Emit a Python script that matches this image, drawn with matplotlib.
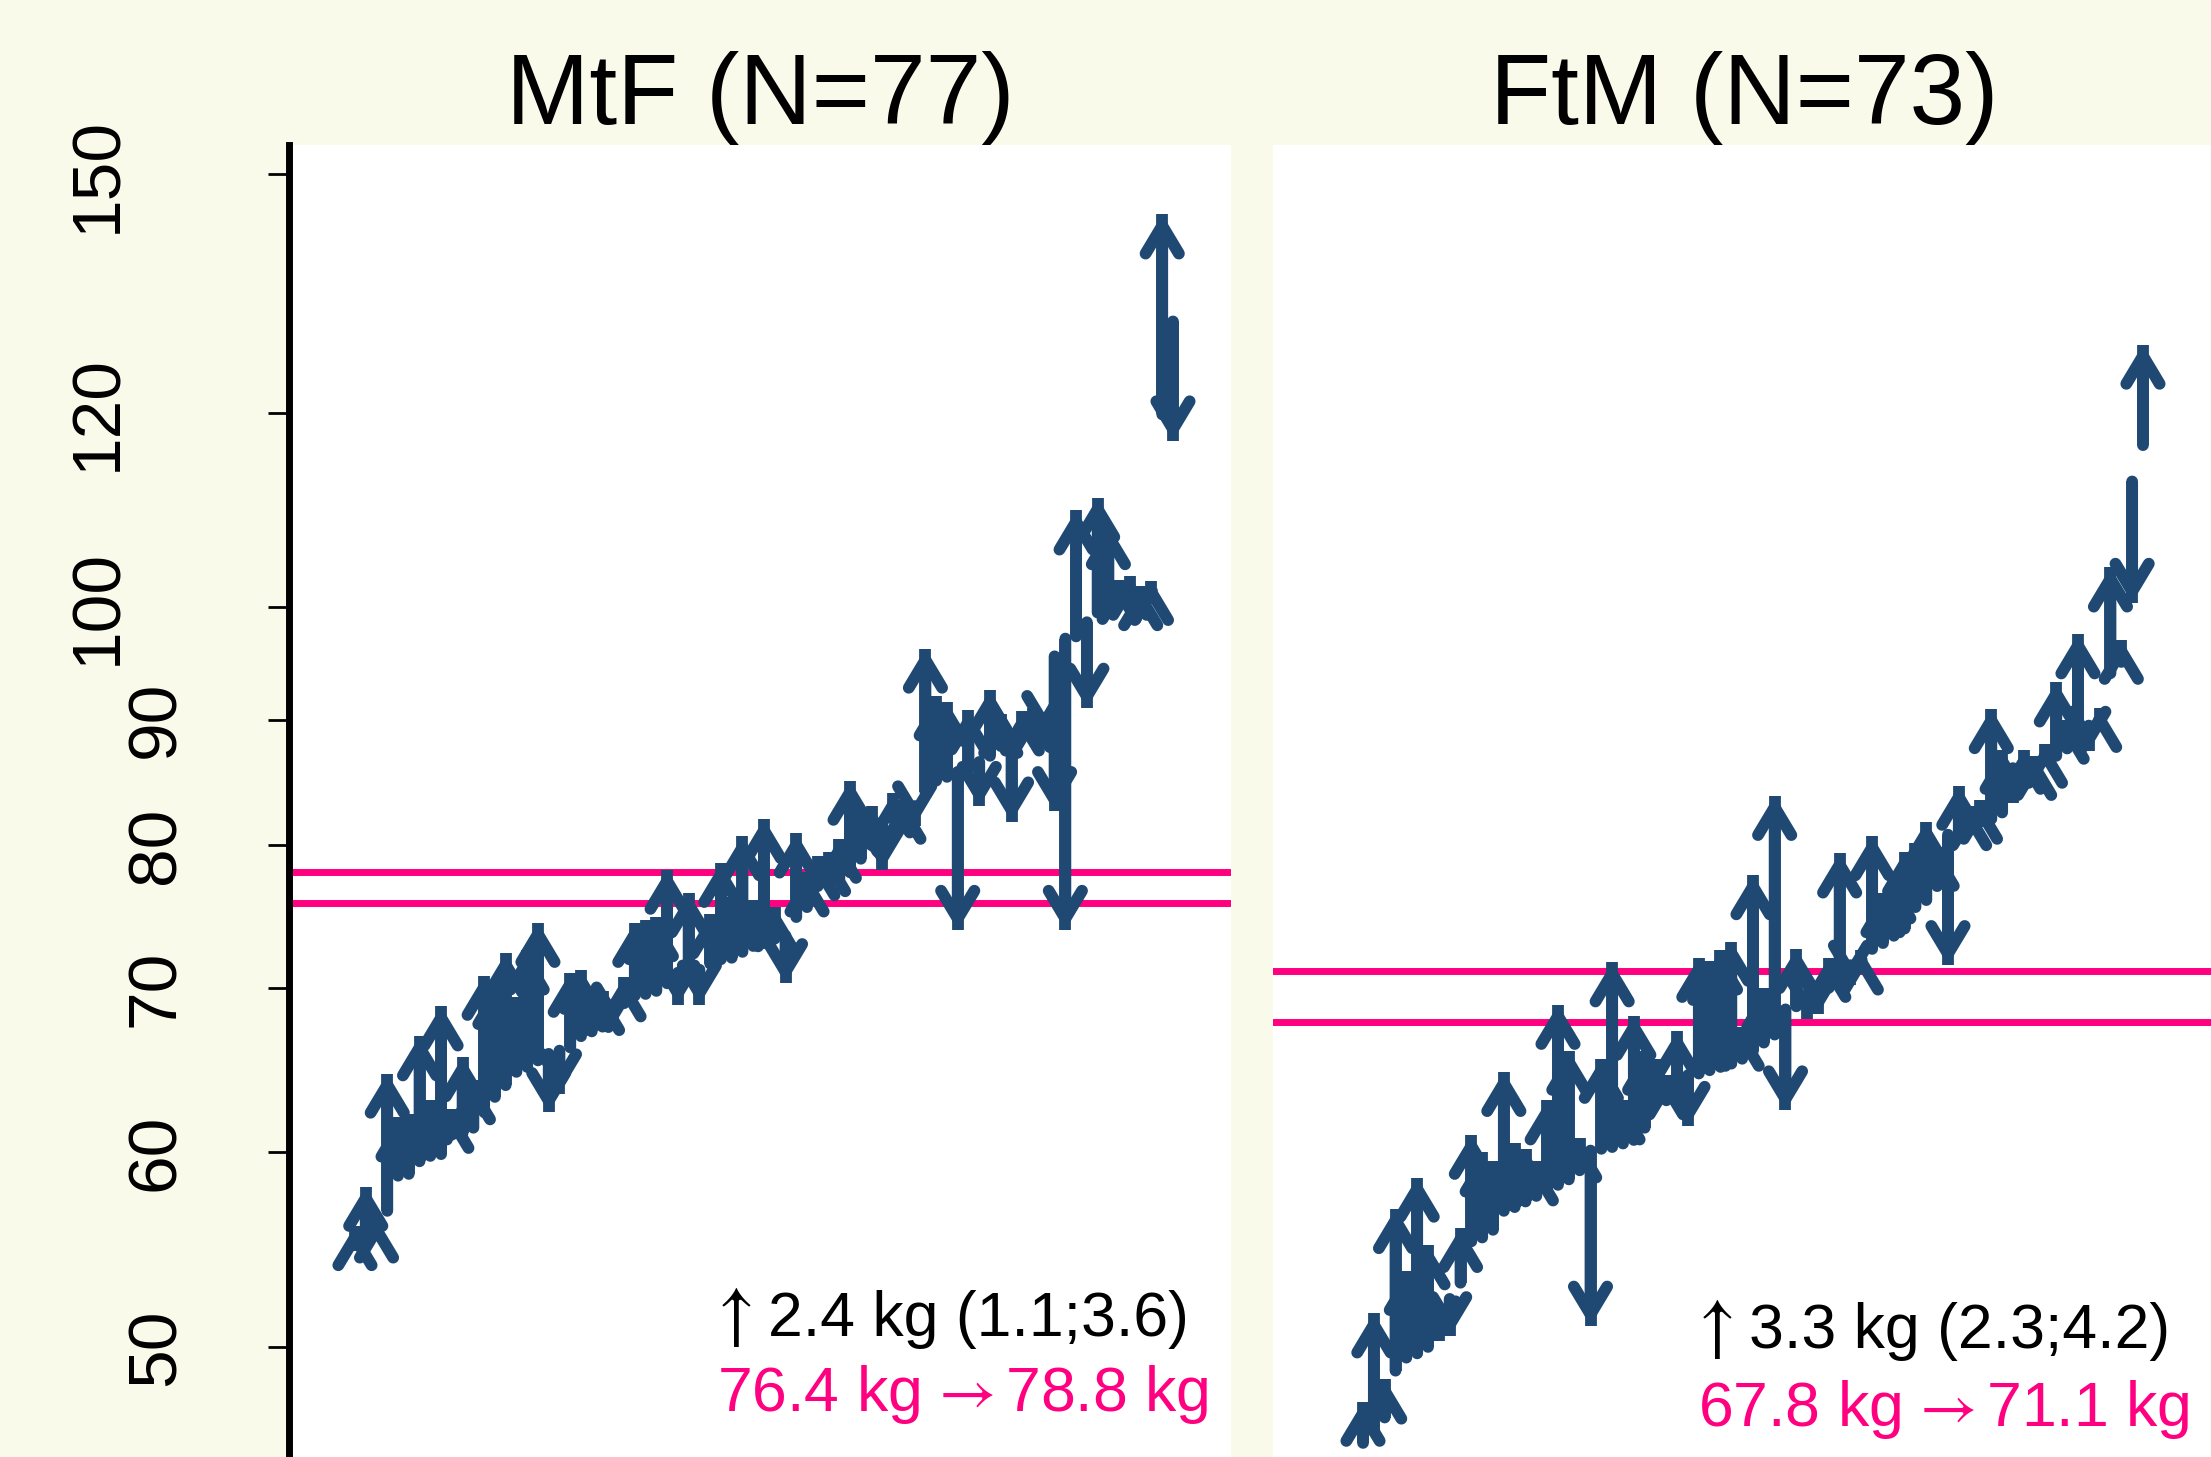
import matplotlib.pyplot as plt
from matplotlib.ticker import NullLocator

# body weight (kg) at baseline and at follow-up, one entry per person,
# ordered by baseline weight
mtf_base = [55.0, 55.5, 55.9, 56.8, 58.7, 58.8, 59.5, 59.8, 59.9, 61.0,
            61.1, 61.4, 62.3, 63.2, 63.9, 64.7, 65.0, 65.4, 65.8, 66.0,
            66.2, 66.9, 67.2, 67.5, 68.9, 69.0, 69.5, 69.6, 69.8, 70.3,
            71.0, 71.0, 71.2, 71.6, 71.9, 72.0, 72.4, 72.8, 73.0, 73.3,
            73.5, 74.8, 75.5, 77.0, 77.3, 77.5, 78.0, 79.0, 80.0, 81.5,
            82.0, 82.5, 83.0, 84.1, 85.0, 85.3, 85.7, 86.0, 86.5, 87.0,
            87.8, 88.5, 89.0, 89.5, 89.8, 95.5, 97.1, 97.3, 98.6, 99.5,
            99.8, 100.3, 100.5, 101.0, 101.5, 119.8, 130.7]
mtf_follow = [56.0, 58.1, 56.4, 64.6, 62.0, 62.2, 66.9, 63.0, 68.8, 62.5,
              65.6, 64.2, 70.8, 70.2, 72.3, 69.4, 72.5, 74.4, 62.3, 63.4,
              71.0, 71.2, 70.0, 69.8, 67.5, 70.7, 74.4, 74.6, 74.8, 78.2,
              68.9, 76.5, 68.9, 75.0, 78.7, 76.2, 80.7, 76.0, 82.0, 75.5,
              70.3, 80.9, 78.0, 79.2, 79.5, 80.5, 85.0, 82.5, 83.0, 78.2,
              84.0, 83.5, 81.5, 96.2, 92.0, 91.5, 73.9, 90.8, 83.0, 92.5,
              90.5, 81.8, 90.7, 91.0, 88.7, 82.6, 73.9, 109.5, 91.0, 110.8,
              108.0, 102.6, 103.0, 102.0, 102.5, 144.5, 116.9]

ftm_base = [45.7, 46.2, 46.8, 48.9, 49.5, 49.7, 50.0, 51.8, 52.3, 53.1,
            55.2, 55.4, 55.8, 56.8, 57.0, 57.3, 57.6, 58.0, 58.2, 58.5,
            59.0, 60.1, 60.2, 60.3, 60.5, 60.7, 61.4, 62.8, 63.0, 63.1,
            64.5, 64.6, 64.8, 65.0, 65.2, 65.5, 66.0, 66.5, 67.0, 68.6,
            68.8, 69.5, 69.8, 70.0, 70.5, 71.5, 71.8, 72.6, 73.0, 73.5,
            74.0, 75.5, 76.0, 77.0, 80.8, 81.0, 81.4, 81.8, 82.0, 82.5,
            86.0, 86.2, 86.5, 86.8, 87.0, 87.6, 88.5, 89.5, 89.8, 94.0,
            95.0, 112.5, 116.4]
ftm_follow = [47.5, 51.6, 48.5, 56.9, 53.7, 58.6, 55.0, 50.3, 50.5, 55.9,
              61.0, 60.0, 59.5, 64.7, 60.5, 60.2, 59.5, 63.0, 68.9, 66.0,
              60.8, 51.0, 65.5, 71.7, 63.0, 68.2, 66.0, 65.5, 64.5, 67.2,
              61.5, 72.0, 71.8, 72.5, 73.1, 67.5, 77.8, 70.0, 83.8, 62.4,
              72.6, 68.0, 68.3, 72.0, 79.4, 70.2, 72.5, 80.7, 76.5, 77.5,
              79.5, 80.2, 81.8, 79.9, 71.5, 84.6, 83.0, 83.5, 90.9, 87.5,
              83.2, 87.5, 87.0, 88.0, 93.2, 90.0, 97.5, 87.4, 91.0, 103.8,
              97.0, 100.4, 127.9]

# group means as drawn (before / after)
mtf_lines = [75.8, 78.0]
ftm_lines = [67.8, 71.1]

titles = ['MtF (N=77)', 'FtM (N=73)']
change_txt = ['2.4 kg (1.1;3.6)', '3.3 kg (2.3;4.2)']
means_txt = [r'76.4 kg$\,\rightarrow$78.8 kg', r'67.8 kg$\,\rightarrow$71.1 kg']
yticks = [50, 60, 70, 80, 90, 100, 120, 150]

BG = '#FAFAEB'
BLUE = '#1F4973'
PINK = '#FF0080'

plt.rcParams['font.family'] = ['Liberation Sans', 'DejaVu Sans']
plt.rcParams['mathtext.fontset'] = 'stix'

W, H = 2211, 1457
fig = plt.figure(figsize=(W / 100, H / 100), dpi=100, facecolor=BG)
ax1 = fig.add_axes([289 / W, 0, 942 / W, 1312 / H])
ax2 = fig.add_axes([1273 / W, 0, 942 / W, 1312 / H])

panels = [
    (ax1, mtf_base, mtf_follow, mtf_lines, (-5.13, 82.39), 0.452, (0.092, 0.035)),
    (ax2, ftm_base, ftm_follow, ftm_lines, (-7.31, 79.65), 0.449, (0.083, 0.024)),
]

head = '->,head_length=20,head_width=12'
LW = 8.5

for k, (ax, base, follow, lines, xlim, tx, ty) in enumerate(panels):
    ax.set_facecolor('white')
    ax.set_yscale('log')
    ax.set_ylim(45.1, 154.2)
    ax.set_xlim(*xlim)
    ax.yaxis.set_minor_locator(NullLocator())
    ax.set_xticks([])
    for s in ax.spines.values():
        s.set_visible(False)

    for y in lines:
        ax.axhline(y, color=PINK, lw=5, zorder=1)

    xs = list(range(1, len(base) + 1))
    # heads first, shafts on top (neighbouring shafts hide parts of heads)
    for x, b, f in zip(xs, base, follow):
        ax.annotate('', xy=(x, f), xytext=(x, b),
                    arrowprops=dict(arrowstyle=head, mutation_scale=1, lw=LW,
                                    color=BLUE, shrinkA=0, shrinkB=0,
                                    joinstyle='bevel'),
                    zorder=2)
    ax.vlines(xs, base, follow, color=BLUE, lw=LW, zorder=3, capstyle='butt')

    ax.text(0.5, 1.016, titles[k], transform=ax.transAxes, ha='center',
            va='baseline', fontsize=72)
    ax.text(tx - 0.008, ty[0], r'$\uparrow$', transform=ax.transAxes,
            ha='left', va='baseline', fontsize=52, color='black')
    ax.text(tx + 0.056, ty[0], change_txt[k], transform=ax.transAxes,
            ha='left', va='baseline', fontsize=45, color='black')
    ax.text(tx + 0.002, ty[1], means_txt[k], transform=ax.transAxes,
            ha='left', va='baseline', fontsize=45, color=PINK)

# y axis only on the left panel, labels staggered like the original
ax1.spines['left'].set_visible(True)
ax1.spines['left'].set_linewidth(5)
ax1.set_yticks(yticks)
ax1.set_yticklabels([])
ax1.tick_params(axis='y', length=15, width=2, color='black', direction='out')
ax2.set_yticks([])

trans = ax1.get_yaxis_transform()
for v in yticks:
    xpos = -0.203 if v >= 100 else -0.141
    ax1.text(xpos, v, str(v), transform=trans, rotation=90, ha='center',
             va='center', fontsize=50)

fig.savefig('out.png', dpi=100, facecolor=BG)
